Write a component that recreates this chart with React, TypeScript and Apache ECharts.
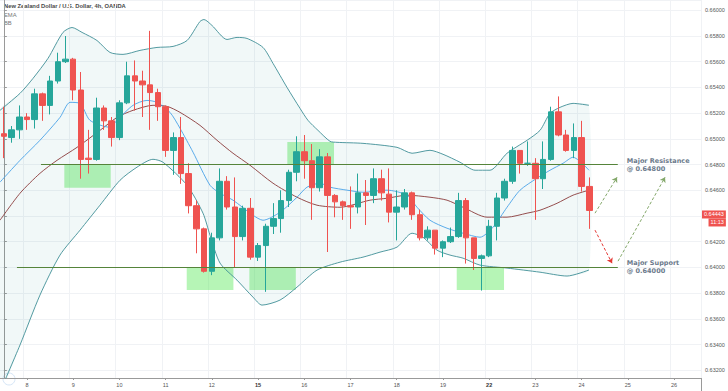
import React, { useEffect, useRef } from 'react';
import * as echarts from 'echarts';

// ---------- categories (4h bars) ----------
const DAYS = ['7', '8', '9', '10', '11', '12', '15', '16', '17', '18', '19', '22', '23', '24', '25', '26'];
const WEEK_START_DAYS = ['15', '22'];
const BARS_PER_DAY = 6;
const FIRST_DAY_VISIBLE_BARS = 3;
const VISIBLE_BARS = 91;

// ---------- candles ----------
const OPEN = [0.6504, 0.6501, 0.6507, 0.6517, 0.6515, 0.6535, 0.6526, 0.6545, 0.6560, 0.6562, 0.6538, 0.6485, 0.6484, 0.6524, 0.6514, 0.6501, 0.6528, 0.6549, 0.6545, 0.6542, 0.6536, 0.6525, 0.6491, 0.6501, 0.6473, 0.6448, 0.6430, 0.6397, 0.6423, 0.6467, 0.6447, 0.6424, 0.6446, 0.6408, 0.6417, 0.6432, 0.6438, 0.6452, 0.6474, 0.6490, 0.6483, 0.6462, 0.6486, 0.6456, 0.6451, 0.6448, 0.6447, 0.6458, 0.6456, 0.6469, 0.6457, 0.6443, 0.6447, 0.6458, 0.6441, 0.6423, 0.6429, 0.6415, 0.6420, 0.6424, 0.6452, 0.6423, 0.6407, 0.6409, 0.6432, 0.6454, 0.6467, 0.6491, 0.6481, 0.6481, 0.6469, 0.6484, 0.6521, 0.6503, 0.6491, 0.6501, 0.6463];
const CLOSE = [0.6502, 0.6507, 0.6517, 0.6515, 0.6535, 0.6526, 0.6545, 0.6560, 0.6562, 0.6538, 0.6484, 0.6484, 0.6524, 0.6514, 0.6501, 0.6528, 0.6549, 0.6545, 0.6542, 0.6536, 0.6525, 0.6491, 0.6501, 0.6473, 0.6448, 0.6430, 0.6397, 0.6423, 0.6467, 0.6447, 0.6424, 0.6446, 0.6408, 0.6417, 0.6432, 0.6438, 0.6452, 0.6474, 0.6490, 0.6483, 0.6462, 0.6486, 0.6456, 0.6451, 0.6448, 0.6447, 0.6458, 0.6456, 0.6469, 0.6458, 0.6443, 0.6447, 0.6458, 0.6441, 0.6423, 0.6429, 0.6415, 0.6420, 0.6424, 0.6452, 0.6423, 0.6407, 0.6409, 0.6432, 0.6454, 0.6467, 0.6491, 0.6481, 0.6481, 0.6469, 0.6484, 0.6521, 0.6503, 0.6491, 0.6501, 0.6463, 0.64443];
const LOW = [0.6485, 0.6497, 0.6500, 0.6507, 0.6508, 0.6514, 0.6519, 0.6543, 0.6559, 0.6530, 0.6469, 0.6473, 0.6483, 0.6507, 0.6494, 0.6499, 0.6527, 0.6522, 0.6517, 0.6507, 0.6514, 0.6486, 0.6472, 0.6465, 0.6442, 0.6411, 0.6396, 0.6394, 0.6421, 0.6445, 0.6400, 0.6421, 0.6406, 0.6405, 0.6381, 0.6426, 0.6427, 0.6447, 0.6467, 0.6469, 0.6437, 0.6459, 0.6412, 0.6439, 0.6437, 0.6430, 0.6442, 0.6433, 0.6450, 0.6452, 0.6435, 0.6421, 0.6445, 0.6437, 0.6421, 0.6421, 0.6410, 0.6408, 0.6419, 0.6423, 0.6403, 0.6398, 0.6382, 0.6408, 0.6421, 0.6452, 0.6465, 0.6473, 0.6479, 0.6437, 0.6461, 0.6483, 0.6502, 0.6490, 0.6485, 0.6459, 0.6430];
const HIGH = [0.6525, 0.6510, 0.6526, 0.6520, 0.6539, 0.6536, 0.6549, 0.6567, 0.6580, 0.6563, 0.6552, 0.6507, 0.6532, 0.6526, 0.6517, 0.6530, 0.6560, 0.6561, 0.6553, 0.6584, 0.6539, 0.6526, 0.6505, 0.6517, 0.6481, 0.6452, 0.6431, 0.6427, 0.6477, 0.6471, 0.6470, 0.6448, 0.6454, 0.6419, 0.6434, 0.6450, 0.6460, 0.6476, 0.6502, 0.6503, 0.6496, 0.6492, 0.6489, 0.6457, 0.6452, 0.6463, 0.6473, 0.6468, 0.6477, 0.6476, 0.6477, 0.6460, 0.6461, 0.6459, 0.6445, 0.6432, 0.6429, 0.6421, 0.6431, 0.6458, 0.6454, 0.6423, 0.6410, 0.6437, 0.6458, 0.6469, 0.6494, 0.6491, 0.6498, 0.6485, 0.6498, 0.6525, 0.6533, 0.6507, 0.6512, 0.6514, 0.6470];

// ---------- indicators: [bar position, price] ----------
const EMA = [[-0.5, 0.64663], [2.1, 0.64833], [4.69, 0.64989], [7.29, 0.65167], [8.59, 0.65284], [9.89, 0.65276], [11.18, 0.65144], [13.78, 0.6509], [14.69, 0.65144], [16.77, 0.65261], [18.58, 0.65299], [19.88, 0.65284], [21.57, 0.65206], [22.87, 0.65082], [24.56, 0.64896], [26.76, 0.64639], [28.06, 0.64577], [29.75, 0.64523], [32.34, 0.64406], [33.64, 0.64367], [35.85, 0.64429], [38.06, 0.64546], [39.35, 0.64624], [41.04, 0.64655], [42.34, 0.64624], [44.55, 0.64601], [46.62, 0.64585], [49.74, 0.64601], [52.34, 0.64562], [53.64, 0.64468], [55.32, 0.64367], [57.53, 0.64305], [59.61, 0.64266], [61.81, 0.64235], [63.5, 0.64313], [65.32, 0.64468], [67.01, 0.64601], [69.21, 0.64694], [70.9, 0.64756], [72.59, 0.6481], [73.89, 0.64857], [75.96, 0.64756]];
const BB_BASIS = [[-0.5, 0.64367], [2.1, 0.64577], [4.69, 0.64732], [6.9, 0.64833], [9.5, 0.64934], [12.48, 0.65066], [14.69, 0.65167], [16.77, 0.65222], [19.36, 0.65261], [21.18, 0.65253], [22.87, 0.65206], [25.46, 0.65105], [27.67, 0.64989], [29.75, 0.64888], [31.95, 0.64795], [34.94, 0.64655], [38.06, 0.64546], [40.65, 0.64484], [43.64, 0.64468], [47.53, 0.64523], [49.74, 0.64538], [52.34, 0.64562], [55.32, 0.64546], [57.53, 0.64523], [59.61, 0.64468], [62.72, 0.64391], [65.32, 0.64391], [67.92, 0.64422], [69.6, 0.64445], [71.81, 0.64499], [73.89, 0.64562], [75.96, 0.64601]];
const BB_UPPER = [[-0.5, 0.65222], [2.1, 0.65354], [3.78, 0.6547], [5.73, 0.65626], [7.68, 0.65828], [8.85, 0.65866], [10.15, 0.65828], [12.09, 0.65765], [13.78, 0.65672], [15.47, 0.65657], [17.67, 0.65688], [19.88, 0.65711], [21.96, 0.65719], [23.78, 0.65765], [25.46, 0.65913], [25.98, 0.65928], [27.02, 0.65882], [28.97, 0.65773], [30.27, 0.65789], [31.57, 0.65781], [33.64, 0.65711], [34.94, 0.65587], [36.76, 0.654], [38.45, 0.65237], [39.48, 0.65144], [40.78, 0.65066], [42.34, 0.64981], [43.25, 0.64973], [46.62, 0.64965], [51.04, 0.64934], [52.99, 0.64888], [55.32, 0.64911], [57.01, 0.6488], [59.22, 0.64818], [61.17, 0.64756], [63.11, 0.64756], [65.32, 0.64888], [67.92, 0.64989], [69.6, 0.65066], [70.9, 0.65198], [72.2, 0.65245], [73.89, 0.65276], [75.96, 0.65261]];
const BB_LOWER = [[-0.5, 0.63033], [2.1, 0.63397], [4.69, 0.63785], [7.29, 0.64096], [9.89, 0.6429], [12.48, 0.64484], [15.08, 0.64678], [17.29, 0.6478], [19.36, 0.64841], [20.66, 0.64818], [23.78, 0.64639], [25.85, 0.64422], [26.76, 0.64251], [28.06, 0.64034], [30.27, 0.63901], [32.34, 0.63769], [33.51, 0.63707], [35.85, 0.63746], [38.06, 0.63847], [40.65, 0.63979], [43.64, 0.64041], [46.62, 0.6408], [48.83, 0.64119], [51.04, 0.64158], [52.99, 0.64266], [54.41, 0.64235], [56.23, 0.64134], [57.92, 0.64096], [59.61, 0.64072], [61.81, 0.64018], [65.32, 0.63995], [69.6, 0.63963], [73.11, 0.63933], [75.96, 0.6398]];

// ---------- levels & drawings ----------
const RESISTANCE = 0.648;
const SUPPORT = 0.64;
const RES_SPAN = [4.82, 79.7];
const SUP_SPAN = [1.7, 79.7];
const RES_TITLE = 'Major Resistance';
const SUP_TITLE = 'Major Support';
const LAST_PRICE = 0.64443;
const LAST_TIME = '11:13';
const ZONE_X = [[7.85, 13.87], [23.74, 29.8], [31.87, 37.9], [36.8, 42.86], [58.79, 64.93]];
const ZONE_Y = [[0.648, 0.6462], [0.64, 0.63824], [0.64, 0.63824], [0.648, 0.64976], [0.64, 0.63824]];
const PROJ_FROM = [[76.74, 0.64422], [76.74, 0.6429], [79.73, 0.64049]];
const PROJ_TO = [[79.6, 0.64701], [78.95, 0.64033], [85.83, 0.64701]];
const PROJ_KIND = ['up', 'down', 'up'];

const TITLE = 'New Zealand Dollar / U.S. Dollar, 4h, OANDA';
const UP = '#26a69a';
const DOWN = '#ef5350';

export default function App() {
  const ref = useRef<HTMLDivElement>(null);
  useEffect(() => {
    if (!ref.current) return;
    const chart = echarts.init(ref.current, undefined, { renderer: 'svg' });

    const categories: string[] = [];
    const firstOfDay: boolean[] = [];
    DAYS.forEach((d, k) => {
      const n = k === 0 ? FIRST_DAY_VISIBLE_BARS : BARS_PER_DAY;
      for (let j = 0; j < n; j++) {
        categories.push(d);
        firstOfDay.push(j === 0 && k > 0);
      }
    });
    categories.length = VISIBLE_BARS;
    firstOfDay.length = VISIBLE_BARS;
    const dayInterval = (index: number) => !!firstOfDay[index];

    const candles = OPEN.map((o, i) => [o, CLOSE[i], LOW[i], HIGH[i]]);

    const bandLine = (name: string, data: number[][], color: string, width = 1) => ({
      name,
      type: 'line',
      xAxisIndex: 1,
      yAxisIndex: 0,
      data,
      symbol: 'none',
      smooth: 0.25,
      silent: true,
      z: 3,
      lineStyle: { color, width },
    });

    const projLines = PROJ_FROM.map((f, i) => [
      {
        coord: f,
        lineStyle: {
          color: PROJ_KIND[i] === 'up' ? '#84a86a' : '#e53935',
          type: [3, 2],
          width: 1,
        },
        label: { show: false },
        symbol: 'none',
      },
      { coord: PROJ_TO[i], symbol: 'arrow', symbolSize: 5 },
    ]);

    const levelLabel = (title: string, v: number) => ({
      show: true,
      position: 'end',
      distance: 9,
      formatter: `${title}\n@ ${v.toFixed(5)}`,
      fontFamily: 'DejaVu Sans',
      fontWeight: 'bold',
      fontSize: 6.5,
      lineHeight: 8,
      color: '#6b7a8b',
      align: 'left',
    });

    const priceLabel = {
      show: true,
      position: 'end',
      distance: 1,
      verticalAlign: 'top',
      color: '#fff',
      formatter: () => `{p|${LAST_PRICE.toFixed(5)}}\n{t|${LAST_TIME}}`,
      rich: {
        p: { backgroundColor: DOWN, color: '#fff', fontSize: 5.5, padding: [1, 2, 1, 2], fontFamily: 'Liberation Sans', lineHeight: 8 },
        t: { backgroundColor: DOWN, color: '#fff', fontSize: 5.5, padding: [1, 2, 1, 2], fontFamily: 'Liberation Sans', align: 'right', lineHeight: 8 },
      },
    };

    const option: any = {
      animation: false,
      backgroundColor: '#ffffff',
      grid: { left: 0, right: 27, top: 0, bottom: 13, containLabel: false },
      xAxis: [
        {
          type: 'category',
          data: categories,
          boundaryGap: true,
          axisLine: { show: true, lineStyle: { color: '#9a9a9a', width: 1 } },
          axisTick: { show: true, interval: dayInterval, alignWithLabel: true, length: 2, lineStyle: { color: '#9a9a9a' } },
          axisLabel: {
            show: true,
            interval: dayInterval,
            fontSize: 5.5,
            color: '#555',
            margin: 4,
            fontFamily: 'Liberation Sans',
            formatter: (v: string) => (WEEK_START_DAYS.includes(v) ? `{b|${v}}` : v),
            rich: { b: { fontWeight: 'bold', fontSize: 5.5, color: '#333', fontFamily: 'Liberation Sans' } },
          },
          splitLine: { show: true, interval: dayInterval, lineStyle: { color: '#f0f2f5', width: 1 } },
        },
        {
          type: 'value',
          min: -0.5,
          max: 90.5,
          show: false,
          splitLine: { show: false },
        },
      ],
      yAxis: {
        type: 'value',
        position: 'right',
        min: 0.6314,
        max: 0.6608,
        splitNumber: 15,
        scale: true,
        axisLine: { show: true, lineStyle: { color: '#9a9a9a', width: 1 } },
        axisTick: { show: true, length: 3, lineStyle: { color: '#9a9a9a' } },
        axisLabel: {
          show: true,
          showMinLabel: false,
          showMaxLabel: false,
          fontSize: 5.5,
          color: '#555',
          margin: 4,
          fontFamily: 'Liberation Sans',
          formatter: (v: number) => {
            const onTick = Math.abs(v / 0.002 - Math.round(v / 0.002)) < 1e-6;
            const hiddenByPrice = Math.abs(v - LAST_PRICE) < 0.0009;
            return onTick && !hiddenByPrice ? v.toFixed(5) : '';
          },
        },
        splitLine: { show: true, lineStyle: { color: '#f0f2f5', width: 1 } },
      },
      graphic: [
        { type: 'text', left: 4, top: 3, style: { text: TITLE, font: 'bold 5.8px "Liberation Sans"', fill: '#4a4a4a' } },
        { type: 'text', left: 4, top: 12, style: { text: 'EMA', font: '5.8px "Liberation Sans"', fill: '#777' } },
        { type: 'text', left: 4, top: 20, style: { text: 'BB', font: '5.8px "Liberation Sans"', fill: '#777' } },
        { type: 'circle', shape: { cx: 9, cy: 379, r: 6 }, style: { fill: 'none', stroke: '#d6e6f7', lineWidth: 1 } },
        { type: 'line', shape: { x1: 701.5, y1: 378, x2: 701.5, y2: 391 }, style: { stroke: '#9a9a9a', lineWidth: 1 } },
      ],
      series: [
        {
          name: 'BB fill',
          type: 'custom',
          xAxisIndex: 1,
          yAxisIndex: 0,
          data: [[0, 0.645]],
          clip: true,
          silent: true,
          z: 1,
          renderItem: (params: any, api: any) => {
            if (params.dataIndex !== 0) return null;
            const pts = BB_UPPER.map((p) => api.coord(p)).concat(
              BB_LOWER.slice().reverse().map((p) => api.coord(p))
            );
            return { type: 'polygon', shape: { points: pts, smooth: 0.2 }, style: { fill: 'rgba(25,135,135,0.06)' } };
          },
        },
        bandLine('BB upper', BB_UPPER, '#3f8f96', 0.9),
        bandLine('BB lower', BB_LOWER, '#3f8f96', 0.9),
        bandLine('BB basis', BB_BASIS, '#8a3a3a', 0.9),
        bandLine('EMA', EMA, '#4aa3e8', 0.9),
        {
          name: 'NZDUSD',
          type: 'candlestick',
          xAxisIndex: 0,
          yAxisIndex: 0,
          data: candles,
          barWidth: 6,
          z: 4,
          itemStyle: { color: UP, color0: DOWN, borderColor: UP, borderColor0: DOWN, borderWidth: 1 },
        },
        {
          name: 'Drawings',
          type: 'line',
          xAxisIndex: 1,
          yAxisIndex: 0,
          data: [],
          z: 6,
          markArea: {
            silent: true,
            itemStyle: { color: 'rgba(80,232,80,0.42)' },
            data: ZONE_X.map((x, i) => [{ coord: [x[0], ZONE_Y[i][0]] }, { coord: [x[1], ZONE_Y[i][1]] }]),
          },
          markLine: {
            silent: true,
            symbol: ['none', 'none'],
            precision: 5,
            data: [
              [
                { coord: [RES_SPAN[0], RESISTANCE], lineStyle: { color: '#55843a', width: 1, type: 'solid' }, label: levelLabel(RES_TITLE, RESISTANCE) },
                { coord: [RES_SPAN[1], RESISTANCE] },
              ],
              [
                { coord: [SUP_SPAN[0], SUPPORT], lineStyle: { color: '#55843a', width: 1, type: 'solid' }, label: levelLabel(SUP_TITLE, SUPPORT) },
                { coord: [SUP_SPAN[1], SUPPORT] },
              ],
              [
                { coord: [-0.5, LAST_PRICE], lineStyle: { color: 'rgba(239,83,80,0)', width: 1, type: 'solid' }, label: priceLabel },
                { coord: [90.5, LAST_PRICE] },
              ],
              ...projLines,
            ],
          },
        },
      ],
    };
    chart.setOption(option);
    return () => chart.dispose();
  }, []);

  return (
    <div
      ref={ref}
      style={{ position: 'fixed', left: 0, top: 0, width: 728, height: 391, background: '#fff' }}
    />
  );
}
